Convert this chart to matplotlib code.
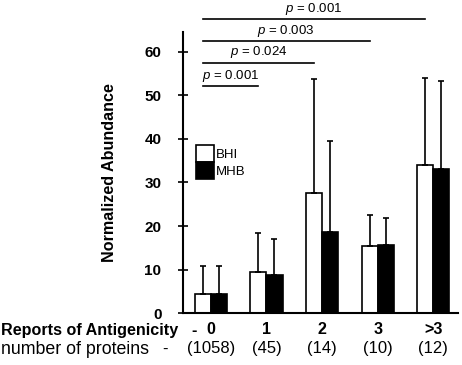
import numpy as np
import matplotlib
matplotlib.use('Agg')
from matplotlib import pyplot as plt

plt.rcParams['font.family'] = 'Liberation Sans'
plt.rcParams['mathtext.fontset'] = 'custom'
plt.rcParams['mathtext.rm'] = 'Liberation Sans'
plt.rcParams['mathtext.it'] = 'Liberation Sans:italic'

groups = ['0', '1', '2', '3', '>3']
counts = ['(1058)', '(45)', '(14)', '(10)', '(12)']
bhi = [4.5, 9.5, 27.5, 15.4, 34.0]
bhi_err = [6.4, 9.0, 26.2, 7.1, 20.0]
mhb = [4.5, 8.8, 18.6, 15.6, 33.2]
mhb_err = [6.4, 8.2, 20.9, 6.3, 20.1]
p_labels = ['p = 0.001', 'p = 0.024', 'p = 0.003', 'p = 0.001']
p_levels = [52.1, 57.5, 62.4, 67.5]

fig = plt.figure(figsize=(4.62, 3.65), dpi=100)
ax = fig.add_axes([0.396, 0.142, 0.596, 0.771])

x = np.arange(len(groups))
w = 0.29
ax.bar(x - w / 2, bhi, w, color='white', edgecolor='black', linewidth=1.2, label='BHI')
ax.bar(x + w / 2, mhb, w, color='black', edgecolor='black', linewidth=1.2, label='MHB')
ax.errorbar(x - w / 2, bhi, yerr=[np.zeros(5), bhi_err], fmt='none', ecolor='black',
            elinewidth=1.2, capsize=2.5, capthick=1.2)
ax.errorbar(x + w / 2, mhb, yerr=[np.zeros(5), mhb_err], fmt='none', ecolor='black',
            elinewidth=1.2, capsize=2.5, capthick=1.2)

# significance brackets from group 0 to groups 1..4
for k, (lab, lev) in enumerate(zip(p_labels, p_levels)):
    x0 = x[0] - w / 2
    x1 = x[k + 1] - w / 2
    ax.plot([x0, x1], [lev, lev], color='black', lw=1.2, clip_on=False)
    ax.text((x0 + x1) / 2, lev + 0.6, '$\\it{p}$' + lab[1:], ha='center', va='bottom',
            fontsize=9.5)

ax.set_xlim(-0.5, 4.45)
ax.set_ylim(0, 64.6)
ax.set_yticks(range(0, 61, 10))
ax.tick_params(axis='y', direction='inout', length=7, width=1.2, labelsize=11, pad=12)
for t in ax.get_yticklabels():
    t.set_fontweight('bold')
ax.set_xticks([])
for s in ['top', 'right']:
    ax.spines[s].set_visible(False)
ax.spines['left'].set_linewidth(1.5)
ax.spines['bottom'].set_linewidth(1.5)
ax.set_ylabel('Normalized Abundance', fontsize=11.6, fontweight='bold', labelpad=20)

leg = ax.legend(loc='upper left', bbox_to_anchor=(0.03, 0.615), frameon=False, fontsize=9.5,
                handlelength=1.3, handleheight=1.6, labelspacing=0.0, handletextpad=0.15,
                borderaxespad=0)

# row labels under the axis
row1 = 1 - 330 / 365
row2 = 1 - 349 / 365
fig.text(0.002, row1, 'Reports of Antigenicity', fontsize=11.6, fontweight='bold', va='center')
fig.text(0.002, row2, 'number of proteins', fontsize=12.8, va='center')
fig.text(194 / 462, row1, '-', fontsize=11.6, fontweight='bold', va='center', ha='center')
fig.text(165 / 462, row2, '-', fontsize=12, va='center', ha='center')
for xi, g, c in zip(x, groups, counts):
    xf = ax.transData.transform((xi, 0))[0] / fig.bbox.width
    fig.text(xf, row1, g, ha='center', va='center', fontsize=11.6, fontweight='bold')
    fig.text(xf, row2, c, ha='center', va='center', fontsize=12)

fig.savefig('out.png', dpi=100)
